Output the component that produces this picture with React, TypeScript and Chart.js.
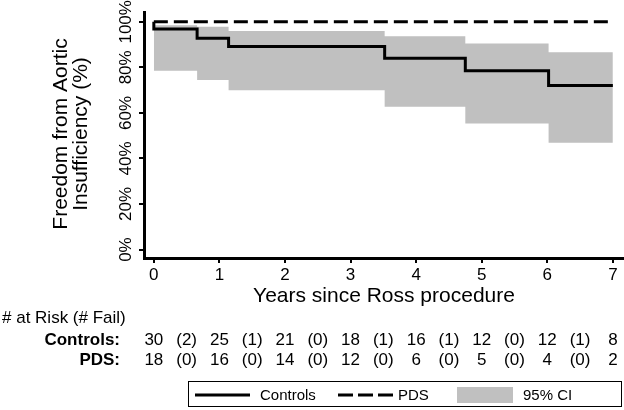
import React, { useEffect, useRef } from 'react';
import { Chart, registerables } from 'chart.js';

Chart.register(...registerables);

const FONT = '"Liberation Sans", Arial, Helvetica, sans-serif';

// Kaplan-Meier estimates (percent)
const controlsTimes = [0, 0, 0.66, 1.14, 3.52, 4.75, 6.02, 7.0];
const controlsSurv = [100, 96.8, 92.8, 89.1, 84.0, 78.5, 72.0, 72.0];
const ciTimes = [0, 0.66, 1.14, 3.52, 4.75, 6.02, 7.0];
const ciUpper = [98.5, 97.8, 96.0, 93.7, 90.5, 86.6, 86.6];
const ciLower = [78.5, 74.4, 70.0, 62.7, 55.4, 46.9, 46.9];
const pdsTimes = [0, 7];
const pdsSurv = [100, 100];

const xTicks = [0, 1, 2, 3, 4, 5, 6, 7];
const yTicks = [0, 20, 40, 60, 80, 100];
const yTickLabels = ['0%', '20%', '40%', '60%', '80%', '100%'];

const xTitle = 'Years since Ross procedure';
const yTitle = ['Freedom from Aortic', 'Insufficiency (%)'];

// number-at-risk table
const riskHeader = '# at Risk (# Fail)';
const riskTimes = [0, 1, 2, 3, 4, 5, 6, 7];
const riskGroups = ['Controls:', 'PDS:'];
const controlsAtRisk = [30, 25, 21, 18, 16, 12, 12, 8];
const controlsFail = [2, 1, 0, 1, 1, 0, 1];
const pdsAtRisk = [18, 16, 14, 12, 6, 5, 4, 2];
const pdsFail = [0, 0, 0, 0, 0, 0, 0];

const legendLabels = ['Controls', 'PDS', '95% CI'];
const CI_COLOR = 'rgb(192,192,192)';

const toPts = (xs: number[], ys: number[]) => xs.map((x, i) => ({ x, y: ys[i] }));

const textPlugin = {
  id: 'textPlugin',
  afterDraw(chart: any) {
    const ctx = chart.ctx as CanvasRenderingContext2D;
    const xs = chart.scales.x;
    const ys = chart.scales.y;
    const area = chart.chartArea;
    ctx.save();
    ctx.fillStyle = '#000';

    // rotated y tick labels
    ctx.font = `17px ${FONT}`;
    ctx.textAlign = 'center';
    ctx.textBaseline = 'alphabetic';
    yTicks.forEach((v, i) => {
      const py = ys.getPixelForValue(v);
      ctx.save();
      ctx.translate(131, py);
      ctx.rotate(-Math.PI / 2);
      ctx.fillText(yTickLabels[i], 0, 0);
      ctx.restore();
    });

    // y title (two lines, rotated)
    ctx.font = `21px ${FONT}`;
    const yc = 134;
    [67, 87].forEach((bx, i) => {
      ctx.save();
      ctx.translate(bx, yc);
      ctx.rotate(-Math.PI / 2);
      ctx.fillText(yTitle[i], 0, 0);
      ctx.restore();
    });

    // x title
    ctx.fillText(xTitle, (area.left + area.right) / 2, 302);

    // risk table
    ctx.font = `17px ${FONT}`;
    ctx.textAlign = 'left';
    ctx.fillText(riskHeader, 2, 323);
    ctx.font = `bold 17px ${FONT}`;
    ctx.textAlign = 'right';
    ctx.fillText(riskGroups[0], 120, 345);
    ctx.fillText(riskGroups[1], 120, 365);
    ctx.font = `17px ${FONT}`;
    ctx.textAlign = 'center';
    const rows = [
      { n: controlsAtRisk, f: controlsFail, y: 345 },
      { n: pdsAtRisk, f: pdsFail, y: 365 },
    ];
    rows.forEach((r) => {
      riskTimes.forEach((t, i) => {
        ctx.fillText(String(r.n[i]), xs.getPixelForValue(t), r.y);
        if (i < r.f.length) {
          ctx.fillText(`(${r.f[i]})`, xs.getPixelForValue(t + 0.5), r.y);
        }
      });
    });

    // legend
    ctx.strokeStyle = '#000';
    ctx.lineWidth = 1;
    ctx.strokeRect(188.5, 381.5, 433, 25);
    ctx.font = `15px ${FONT}`;
    ctx.textAlign = 'left';
    const ly = 395;
    ctx.lineWidth = 3;
    ctx.beginPath();
    ctx.moveTo(195, ly);
    ctx.lineTo(250, ly);
    ctx.stroke();
    ctx.fillText(legendLabels[0], 260, 400);
    ctx.setLineDash([15, 5]);
    ctx.beginPath();
    ctx.moveTo(338, ly);
    ctx.lineTo(393, ly);
    ctx.stroke();
    ctx.setLineDash([]);
    ctx.fillText(legendLabels[1], 398, 400);
    ctx.fillStyle = CI_COLOR;
    ctx.fillRect(457, 387, 56, 16);
    ctx.fillStyle = '#000';
    ctx.fillText(legendLabels[2], 523, 400);

    ctx.restore();
  },
};

export default function App() {
  const ref = useRef<HTMLCanvasElement>(null);
  useEffect(() => {
    document.body.style.margin = '0';
    const canvas = ref.current!;
    const chart = new Chart(canvas, {
      type: 'line',
      data: {
        datasets: [
          {
            label: 'Controls',
            data: toPts(controlsTimes, controlsSurv),
            stepped: 'before',
            borderColor: '#000',
            borderWidth: 3,
            pointRadius: 0,
            fill: false,
          },
          {
            label: 'PDS',
            data: toPts(pdsTimes, pdsSurv),
            borderColor: '#000',
            borderWidth: 3,
            borderDash: [14, 6],
            pointRadius: 0,
            fill: false,
          },
          {
            label: 'CI lower',
            data: toPts(ciTimes, ciLower),
            stepped: 'before',
            borderColor: 'rgba(0,0,0,0)',
            borderWidth: 1,
            pointRadius: 0,
            fill: false,
          },
          {
            label: '95% CI',
            data: toPts(ciTimes, ciUpper),
            stepped: 'before',
            borderColor: 'rgba(0,0,0,0)',
            borderWidth: 1,
            pointRadius: 0,
            backgroundColor: CI_COLOR,
            fill: '-1',
          },
        ],
      },
      options: {
        animation: false,
        responsive: false,
        devicePixelRatio: 1,
        layout: { padding: { top: 12, left: 0, right: 0, bottom: 0 } },
        plugins: {
          legend: { display: false },
          tooltip: { enabled: false },
          title: { display: false },
        },
        scales: {
          x: {
            type: 'linear',
            min: -0.15,
            max: 7.17,
            afterBuildTicks: (s: any) => {
              s.ticks = xTicks.map((v) => ({ value: v }));
            },
            afterFit: (s: any) => {
              s.height = 152;
            },
            ticks: {
              color: '#000',
              font: { family: FONT, size: 17 },
              padding: 2,
              maxRotation: 0,
              autoSkip: false,
              callback: (v: any) => String(v),
            },
            grid: {
              drawOnChartArea: false,
              drawTicks: true,
              tickLength: 5,
              lineWidth: 2,
              color: '#000',
              tickColor: '#000',
            },
            border: { display: true, color: '#000', width: 3 },
          },
          y: {
            type: 'linear',
            min: -3.7,
            max: 104.3,
            afterBuildTicks: (s: any) => {
              s.ticks = yTicks.map((v) => ({ value: v }));
            },
            afterFit: (s: any) => {
              s.width = 144;
            },
            ticks: { display: false },
            grid: {
              drawOnChartArea: false,
              drawTicks: true,
              tickLength: 5,
              lineWidth: 2,
              color: '#000',
              tickColor: '#000',
            },
            border: { display: true, color: '#000', width: 3 },
          },
        },
      } as any,
      plugins: [textPlugin],
    });
    return () => chart.destroy();
  }, []);
  return (
    <div style={{ width: 624, height: 410 }}>
      <canvas ref={ref} width={624} height={410} style={{ display: 'block' }} />
    </div>
  );
}
